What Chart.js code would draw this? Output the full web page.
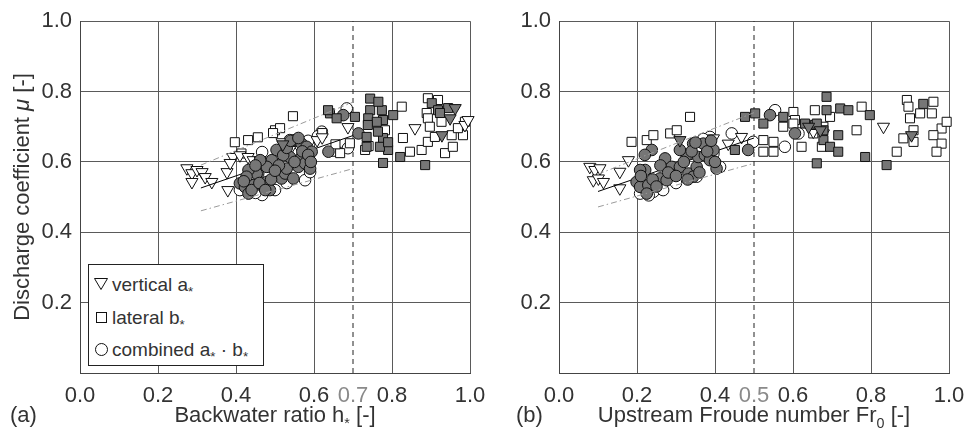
<!DOCTYPE html>
<html><head><meta charset="utf-8">
<script src="https://cdn.jsdelivr.net/npm/chart.js@4"></script>
<style>
html,body{margin:0;padding:0;background:#fff}
body{width:965px;height:443px;overflow:hidden;position:relative;font-family:"Liberation Sans",Arial,sans-serif;color:#333}
canvas{position:absolute;top:0}
#c1{left:0}
#c2{left:480px}
.t{position:absolute;font-size:22px;line-height:1;white-space:nowrap}
.t sub{font-size:65%;vertical-align:-0.4em;line-height:0}
#ytitle{left:22px;top:197px;transform:translate(-50%,-50%) rotate(-90deg)}
#legend{position:absolute;left:88px;top:264px;width:174px;height:100px;border:1px solid #222;background:#fff;font-size:19px;line-height:1}
#legend .row{position:absolute;left:0;white-space:nowrap}
#legend svg{position:absolute;left:4px}
#legend span{position:absolute;left:23px}
#legend sub{font-size:70%;vertical-align:-0.35em;line-height:0}
</style>
</head><body>
<canvas id="c1" width="500" height="443" style="width:500px;height:443px"></canvas>
<canvas id="c2" width="485" height="443" style="width:485px;height:443px"></canvas>

<div class="t" id="ytitle">Discharge coefficient <i>μ</i> [-]</div>
<div class="t" style="left:10px;top:404px">(a)</div>
<div class="t" style="left:275px;top:404px;transform:translateX(-50%)">Backwater ratio h<sub>*</sub> [-]</div>
<div class="t" style="left:516px;top:404px">(b)</div>
<div class="t" style="left:754px;top:404px;transform:translateX(-50%)">Upstream Froude number Fr<sub>0</sub> [-]</div>

<div id="legend">
  <div class="row" style="top:8px;width:170px;height:24px">
    <svg width="16" height="16" style="top:3px"><polygon points="1.5,2.5 14.5,2.5 8,13.5" fill="#fff" stroke="#111" stroke-width="1"/></svg>
    <span style="top:2px">vertical a<sub>*</sub></span>
  </div>
  <div class="row" style="top:41px;width:170px;height:24px">
    <svg width="16" height="16" style="top:3px"><rect x="3.5" y="3.5" width="10" height="10" fill="#fff" stroke="#111" stroke-width="1"/></svg>
    <span style="top:2px">lateral b<sub>*</sub></span>
  </div>
  <div class="row" style="top:73px;width:170px;height:24px">
    <svg width="16" height="16" style="top:3px"><circle cx="8.5" cy="8.5" r="6" fill="#fff" stroke="#111" stroke-width="1"/></svg>
    <span style="top:2px">combined a<sub>*</sub> · b<sub>*</sub></span>
  </div>
</div>

<script>
// ---------- Panel (a): backwater ratio h* ----------
const A_vertOpen = [[0.274,0.582],[0.287,0.568],[0.300,0.577],[0.313,0.571],[0.287,0.543],[0.321,0.557],[0.338,0.543],[0.377,0.571],[0.379,0.520],[0.392,0.614],[0.385,0.597],[0.410,0.619],[0.431,0.614],[0.444,0.605],[0.462,0.605],[0.518,0.656],[0.538,0.634],[0.608,0.662],[0.621,0.670],[0.687,0.699],[0.859,0.696],[0.987,0.705],[0.995,0.719]];
const A_vertFill = [[0.962,0.753],[0.949,0.724],[0.928,0.676],[0.520,0.650]];
const A_latOpen = [[0.397,0.656],[0.431,0.662],[0.456,0.670],[0.500,0.690],[0.546,0.730],[0.513,0.696],[0.495,0.682],[0.414,0.624],[0.621,0.682],[0.658,0.629],[0.667,0.625],[0.692,0.653],[0.731,0.634],[0.825,0.757],[0.892,0.781],[0.918,0.776],[0.889,0.739],[0.892,0.724],[0.927,0.714],[0.897,0.700],[0.828,0.668],[0.846,0.629],[0.876,0.634],[0.892,0.657],[0.910,0.671],[0.936,0.625],[0.956,0.643],[0.953,0.676],[0.982,0.676],[0.987,0.714],[0.969,0.696],[0.782,0.690],[0.740,0.645],[0.655,0.650]];
const A_latFill = [[0.902,0.767],[0.918,0.747],[0.774,0.747],[0.803,0.733],[0.777,0.719],[0.777,0.668],[0.790,0.634],[0.821,0.614],[0.885,0.591],[0.777,0.597],[0.641,0.738],[0.658,0.724],[0.705,0.728],[0.744,0.780],[0.744,0.747],[0.739,0.724],[0.765,0.771],[0.761,0.714],[0.738,0.705],[0.735,0.671],[0.764,0.686],[0.735,0.643],[0.769,0.643],[0.636,0.747],[0.790,0.656],[0.944,0.753],[0.923,0.739]];
const A_combOpen = [[0.684,0.752],[0.620,0.686],[0.687,0.639],[0.436,0.520],[0.467,0.506],[0.564,0.648],[0.538,0.662],[0.577,0.548],[0.467,0.628],[0.410,0.520],[0.500,0.520],[0.559,0.662],[0.590,0.571],[0.610,0.673],[0.450,0.512],[0.530,0.540],[0.585,0.660]];
const A_combFill = [[0.410,0.539],[0.423,0.529],[0.432,0.510],[0.444,0.534],[0.457,0.567],[0.470,0.529],[0.479,0.543],[0.487,0.520],[0.492,0.605],[0.504,0.634],[0.504,0.563],[0.517,0.553],[0.526,0.567],[0.530,0.581],[0.538,0.614],[0.547,0.553],[0.551,0.662],[0.560,0.586],[0.568,0.614],[0.568,0.652],[0.577,0.596],[0.581,0.643],[0.590,0.581],[0.594,0.629],[0.675,0.733],[0.714,0.681],[0.637,0.629],[0.453,0.567],[0.432,0.577],[0.427,0.558],[0.479,0.586],[0.462,0.605],[0.521,0.619],[0.440,0.520],[0.460,0.540],[0.490,0.550],[0.510,0.590],[0.530,0.640],[0.550,0.600],[0.570,0.630],[0.585,0.620],[0.592,0.600],[0.500,0.575],[0.420,0.545],[0.450,0.590],[0.540,0.660],[0.560,0.668],[0.475,0.520]];
const A_fit = [[0.31,0.526],[0.70,0.675]];
const A_upper = [[0.31,0.591],[0.70,0.770]];
const A_lower = [[0.31,0.461],[0.70,0.581]];
const A_threshold = 0.7;

// ---------- Panel (b): upstream Froude number Fr0 ----------
const B_vertOpen = [[0.079,0.586],[0.092,0.577],[0.105,0.582],[0.088,0.548],[0.101,0.553],[0.114,0.543],[0.156,0.572],[0.156,0.525],[0.178,0.605],[0.434,0.652],[0.468,0.671],[0.832,0.700],[0.396,0.667],[0.652,0.686],[0.678,0.681]];
const B_vertFill = [[0.904,0.676],[0.310,0.662],[0.640,0.700],[0.670,0.690]];
const B_latOpen = [[0.186,0.657],[0.225,0.662],[0.242,0.676],[0.285,0.681],[0.302,0.690],[0.336,0.728],[0.524,0.662],[0.550,0.629],[0.550,0.657],[0.524,0.629],[0.601,0.742],[0.605,0.719],[0.656,0.747],[0.695,0.728],[0.763,0.690],[0.776,0.757],[0.866,0.629],[0.892,0.776],[0.896,0.757],[0.900,0.724],[0.909,0.690],[0.883,0.667],[0.909,0.657],[0.926,0.738],[0.956,0.738],[0.960,0.771],[0.981,0.695],[0.960,0.676],[0.981,0.652],[0.968,0.629],[0.994,0.714],[0.622,0.643],[0.652,0.681],[0.674,0.643],[0.678,0.700],[0.575,0.700],[0.601,0.709]];
const B_latFill = [[0.477,0.728],[0.503,0.738],[0.524,0.709],[0.575,0.728],[0.451,0.634],[0.631,0.709],[0.656,0.705],[0.686,0.785],[0.686,0.747],[0.721,0.752],[0.742,0.747],[0.678,0.690],[0.678,0.662],[0.695,0.643],[0.716,0.676],[0.716,0.629],[0.661,0.596],[0.785,0.614],[0.797,0.733],[0.840,0.591],[0.934,0.765],[0.661,0.709]];
const B_combOpen = [[0.443,0.681],[0.498,0.657],[0.554,0.747],[0.579,0.643],[0.387,0.671],[0.242,0.515],[0.267,0.520],[0.208,0.510],[0.396,0.624],[0.413,0.586],[0.353,0.558],[0.614,0.681],[0.230,0.505],[0.300,0.540],[0.370,0.665]];
const B_combFill = [[0.199,0.543],[0.208,0.529],[0.221,0.577],[0.229,0.534],[0.238,0.634],[0.259,0.553],[0.272,0.610],[0.289,0.586],[0.297,0.563],[0.310,0.586],[0.327,0.619],[0.332,0.567],[0.344,0.652],[0.353,0.586],[0.357,0.614],[0.370,0.652],[0.374,0.619],[0.387,0.605],[0.396,0.634],[0.404,0.581],[0.310,0.634],[0.276,0.548],[0.485,0.634],[0.541,0.733],[0.605,0.681],[0.208,0.577],[0.225,0.510],[0.344,0.558],[0.210,0.560],[0.240,0.550],[0.260,0.590],[0.280,0.570],[0.300,0.560],[0.320,0.600],[0.340,0.630],[0.360,0.570],[0.380,0.630],[0.400,0.600],[0.220,0.620],[0.350,0.655],[0.390,0.660],[0.330,0.550],[0.250,0.530]];
const B_fit = [[0.10,0.516],[0.50,0.668]];
const B_upper = [[0.10,0.565],[0.50,0.740]];
const B_lower = [[0.10,0.472],[0.50,0.596]];
const B_threshold = 0.5;

const xTickValues = [0, 0.2, 0.4, 0.6, 0.8, 1.0];
const yTickStep = 0.2;

const FONT = {family:'"Liberation Sans", Arial, sans-serif', size:22};
const GREY = '#767676';
const pts = a => a.map(p => ({x:p[0], y:p[1]}));

function scatterSet(data, style, filled, order){
  return {
    type:'scatter', data:pts(data), showLine:false, order:order, clip:false,
    pointStyle: style==='tri' ? 'triangle' : style==='sq' ? 'rect' : 'circle',
    pointRotation: style==='tri' ? 180 : 0,
    pointRadius: style==='tri' ? 7 : style==='sq' ? 6.4 : 5.8,
    pointBackgroundColor: filled ? GREY : '#fff',
    backgroundColor: filled ? GREY : '#fff',
    pointBorderColor:'#111', borderColor:'#111', pointBorderWidth:1, borderWidth:1
  };
}
function lineSet(data, color, dash, order){
  return {type:'line', data:pts(data), borderColor:color, borderWidth:1, borderDash:dash,
          pointRadius:0, showLine:true, fill:false, tension:0, order:order, clip:false};
}

function makeChart(id, d, T, yWidth, padRight){
  const isT = v => Math.abs(v - T) < 1e-6;
  const datasets = [
    lineSet([[T,0],[T,1]], '#222', [5,4], 4),
    lineSet(d.fit, '#000', [], 1.5),
    lineSet(d.upper, '#9a9a9a', [6,3,1.5,3], 0),
    lineSet(d.lower, '#9a9a9a', [6,3,1.5,3], 0),
    scatterSet(d.vo, 'tri', false, 2),
    scatterSet(d.lo, 'sq', false, 2),
    scatterSet(d.co, 'ci', false, 2),
    scatterSet(d.vf, 'tri', true, 1),
    scatterSet(d.lf, 'sq', true, 1),
    scatterSet(d.cf, 'ci', true, 1)
  ];
  return new Chart(document.getElementById(id), {
    type:'scatter',
    data:{datasets},
    options:{
      responsive:false, animation:false, devicePixelRatio:1,
      layout:{padding:{left:0, right:padRight, top:21, bottom:0}},
      plugins:{legend:{display:false}, tooltip:{enabled:false}},
      scales:{
        x:{type:'linear', min:0, max:1,
           afterBuildTicks: s => { s.ticks = xTickValues.concat([T]).sort((a,b)=>a-b).map(v => ({value:v})); },
           afterFit: s => { s.height = 70; s.paddingLeft = 0; s.paddingRight = 0; },
           ticks:{autoSkip:false, maxRotation:0, minRotation:0, padding:10, font:FONT,
                  color: c => (c.tick && isT(c.tick.value)) ? '#8a8a8a' : '#333',
                  callback: v => Number(v).toFixed(1)},
           grid:{drawTicks:false, lineWidth:1,
                 color: c => (c.tick && isT(c.tick.value)) ? 'rgba(0,0,0,0)' : '#5a5a5a'},
           border:{color:'#444', width:1}
        },
        y:{type:'linear', min:0, max:1,
           afterFit: s => { s.width = yWidth; },
           ticks:{stepSize:yTickStep, padding:8, font:FONT, color:'#333',
                  callback: v => Math.abs(v) < 1e-9 ? '' : Number(v).toFixed(1)},
           grid:{drawTicks:false, lineWidth:1, color:'#5a5a5a'},
           border:{color:'#444', width:1}
        }
      }
    }
  });
}

makeChart('c1', {vo:A_vertOpen, vf:A_vertFill, lo:A_latOpen, lf:A_latFill, co:A_combOpen, cf:A_combFill,
                 fit:A_fit, upper:A_upper, lower:A_lower}, A_threshold, 80, 30);
makeChart('c2', {vo:B_vertOpen, vf:B_vertFill, lo:B_latOpen, lf:B_latFill, co:B_combOpen, cf:B_combFill,
                 fit:B_fit, upper:B_upper, lower:B_lower}, B_threshold, 79, 16);
</script>
</body></html>
